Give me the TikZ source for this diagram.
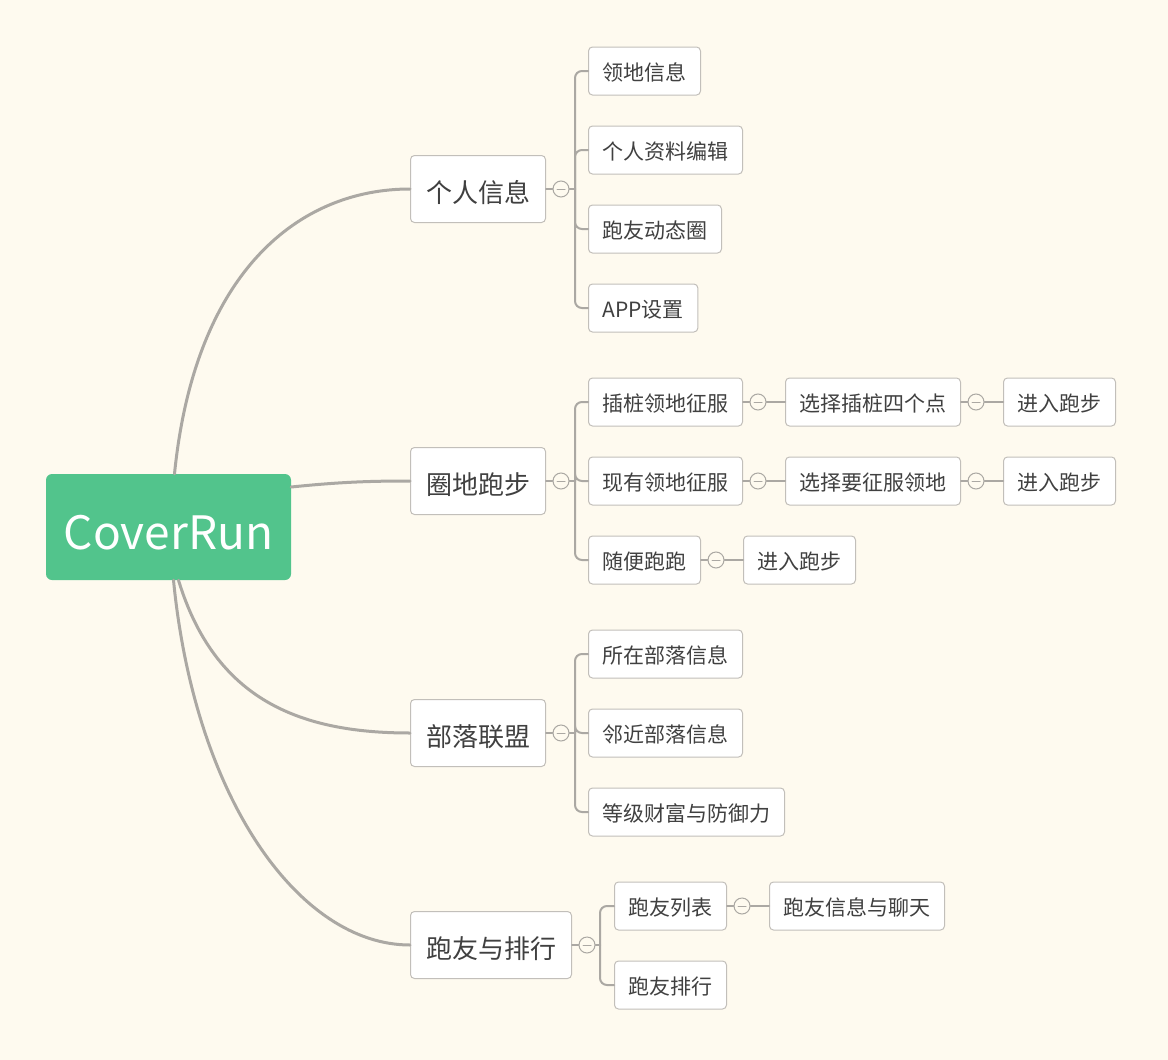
\documentclass[tikz,border=0pt]{standalone}
\usepackage{fontspec}
\setmainfont{Noto Sans CJK SC}
\usepackage{tikz}
\usetikzlibrary{positioning}
\definecolor{paper}{HTML}{FEFAEF}
\definecolor{wire}{HTML}{ABA8A3}
\definecolor{boxline}{HTML}{C2BFBA}
\definecolor{ink}{HTML}{404040}
\definecolor{mint}{HTML}{52C48C}

\begin{document}
\begin{tikzpicture}[x=1pt, y=-1pt, line cap=round,
    leaf/.style={draw=boxline, fill=white, rounded corners=4, line width=1, text=ink, font=\fontsize{21}{21}\selectfont, minimum height=48, inner xsep=14, text height=19, text depth=0, anchor=west},
    topic/.style={leaf, font=\fontsize{26}{26}\selectfont, minimum height=67, inner xsep=15.5, text height=27.5},
    tog/.style={circle, draw=wire, fill=paper, line width=1, minimum size=16, inner sep=0, path picture={\draw[wire, line width=1] ([xshift=-4]path picture bounding box.center) -- ([xshift=4]path picture bounding box.center);}},
    link/.style={draw=wire, line width=2},
    trunk/.style={draw=wire, line width=3}]
    \fill[paper] (0,0) rectangle (1168,1060);
    \useasboundingbox (0,0) rectangle (1168,1060);

    \node[fill=mint, rounded corners=6, text=white, font=\fontsize{46}{46}\selectfont, minimum width=245, minimum height=106, text height=44, text depth=0] (cover) at (168.5,527) {CoverRun};

    \node[topic] (info) at (410,189) {个人信息};
    \node[topic] (run) at (410,481) {圈地跑步};
    \node[topic] (tribe) at (410,733) {部落联盟};
    \node[topic] (friend) at (410,945) {跑友与排行};

    \draw[trunk] ([xshift=6]cover.north) .. controls (195,270) and (300,189) .. (info.west);
    \draw[trunk] ([yshift=40]cover.east) .. controls (340,482) and (370,481) .. (run.west);
    \draw[trunk] ([xshift=10]cover.south) .. controls (215,700) and (300,733) .. (tribe.west);
    \draw[trunk] ([xshift=5]cover.south) .. controls (195,800) and (300,945) .. (friend.west);

    % personal info
    \node[leaf] (land) at (588,71) {领地信息};
    \node[leaf] (profile) at (588,150) {个人资料编辑};
    \node[leaf] (moments) at (588,229) {跑友动态圈};
    \node[leaf] (setting) at (588,308) {APP设置};
    \node[tog] (tinfo) at (561,189) {};
    \coordinate (jinfo) at (575,189);
    \draw[link] (info.east) -- (tinfo.west);
    \draw[link] (tinfo.east) -- (jinfo);
    \draw[link, rounded corners=7] (jinfo) |- (land.west);
    \draw[link, rounded corners=7] (jinfo) |- (profile.west);
    \draw[link, rounded corners=7] (jinfo) |- (moments.west);
    \draw[link, rounded corners=7] (jinfo) |- (setting.west);

    % circle run
    \node[leaf] (stake) at (588,402) {插桩领地征服};
    \node[leaf] (owned) at (588,481) {现有领地征服};
    \node[leaf] (free) at (588,560) {随便跑跑};
    \node[leaf] (pick4) at (785,402) {选择插桩四个点};
    \node[leaf] (go1) at (1003,402) {进入跑步};
    \node[leaf] (pickland) at (785,481) {选择要征服领地};
    \node[leaf] (go2) at (1003,481) {进入跑步};
    \node[leaf] (go3) at (743,560) {进入跑步};
    \node[tog] (trun) at (561,481) {};
    \coordinate (jrun) at (575,481);
    \draw[link] (run.east) -- (trun.west);
    \draw[link] (trun.east) -- (jrun);
    \draw[link, rounded corners=7] (jrun) |- (stake.west);
    \draw[link, rounded corners=7] (jrun) |- (owned.west);
    \draw[link, rounded corners=7] (jrun) |- (free.west);
    \node[tog] (tstake) at (758,402) {};
    \node[tog] (tpick4) at (976,402) {};
    \node[tog] (towned) at (758,481) {};
    \node[tog] (tpickland) at (976,481) {};
    \node[tog] (tfree) at (716,560) {};
    \draw[link] (stake.east) -- (tstake.west);
    \draw[link] (tstake.east) -- (pick4.west);
    \draw[link] (pick4.east) -- (tpick4.west);
    \draw[link] (tpick4.east) -- (go1.west);
    \draw[link] (owned.east) -- (towned.west);
    \draw[link] (towned.east) -- (pickland.west);
    \draw[link] (pickland.east) -- (tpickland.west);
    \draw[link] (tpickland.east) -- (go2.west);
    \draw[link] (free.east) -- (tfree.west);
    \draw[link] (tfree.east) -- (go3.west);

    % tribe alliance
    \node[leaf] (mytribe) at (588,654) {所在部落信息};
    \node[leaf] (neartribe) at (588,733) {邻近部落信息};
    \node[leaf] (rank) at (588,812) {等级财富与防御力};
    \node[tog] (ttribe) at (561,733) {};
    \coordinate (jtribe) at (575,733);
    \draw[link] (tribe.east) -- (ttribe.west);
    \draw[link] (ttribe.east) -- (jtribe);
    \draw[link, rounded corners=7] (jtribe) |- (mytribe.west);
    \draw[link, rounded corners=7] (jtribe) |- (neartribe.west);
    \draw[link, rounded corners=7] (jtribe) |- (rank.west);

    % friends and ranking
    \node[leaf] (flist) at (614,906) {跑友列表};
    \node[leaf] (franks) at (614,985) {跑友排行};
    \node[leaf] (chat) at (769,906) {跑友信息与聊天};
    \node[tog] (tfriend) at (587,945) {};
    \coordinate (jfriend) at (600,945);
    \draw[link] (friend.east) -- (tfriend.west);
    \draw[link] (tfriend.east) -- (jfriend);
    \draw[link, rounded corners=7] (jfriend) |- (flist.west);
    \draw[link, rounded corners=7] (jfriend) |- (franks.west);
    \node[tog] (tflist) at (742,906) {};
    \draw[link] (flist.east) -- (tflist.west);
    \draw[link] (tflist.east) -- (chat.west);
\end{tikzpicture}
\end{document}
